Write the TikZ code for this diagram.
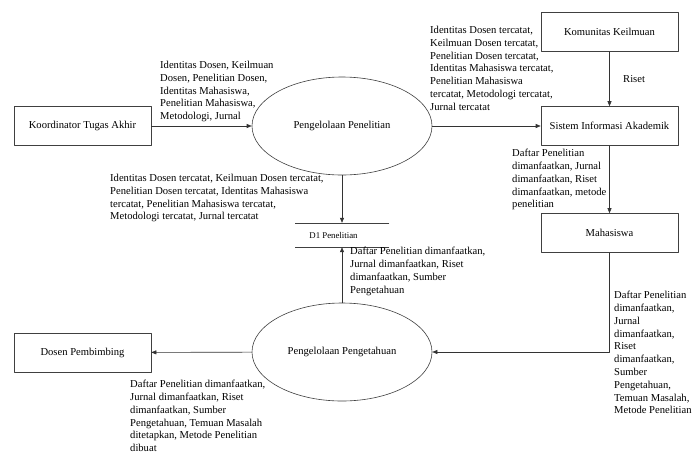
\documentclass[tikz,border=0pt]{standalone}
\usepackage{fontspec}
\setmainfont{Liberation Serif}
\usetikzlibrary{shapes.geometric,arrows.meta}

\begin{document}
\begin{tikzpicture}[x=1pt, y=-1pt, line cap=round, line join=round, >={Triangle[length=5pt,width=4pt]},
		font=\fontsize{10.6}{12.8}\selectfont,
		entity/.style={draw=black!75, line width=0.6pt, minimum width=137pt, minimum height=39pt},
		process/.style={ellipse, draw=black!75, line width=0.6pt, minimum width=180pt, minimum height=98pt},
		store/.style={minimum width=93pt, minimum height=24pt},
		flow/.style={->, draw=black!80, line width=0.6pt},
		lbl/.style={align=left, anchor=north west, inner sep=0pt}]
	\fill[white] (0,0) rectangle (695,453);
	\useasboundingbox (0,0) rectangle (695,453);
	% entitas luar
	\node[entity] (koord) at (82.5,126) {Koordinator Tugas Akhir};
	\node[entity] (dospem) at (82.5,352.5) {Dosen Pembimbing};
	\node[entity] (kom) at (609.5,32) {Komunitas Keilmuan};
	\node[entity] (sia) at (609.5,126) {Sistem Informasi Akademik};
	\node[entity] (mhs) at (609.5,233) {Mahasiswa};
	% proses
	\node[process] (pp) at (342,126) {Pengelolaan Penelitian};
	\node[process] (peng) at (342,352) {Pengelolaan Pengetahuan};
	% data store
	\node[store] (d1) at (342,235) {};
	\node[font=\fontsize{8.8}{10}\selectfont] (d1txt) at (333.5,235) {D1 Penelitian};
	\draw[black!75, line width=0.6pt] (d1.north west) -- (d1.north east) (d1.south west) -- (d1.south east);
	% aliran data
	\draw[flow] (koord) -- (pp);
	\draw[flow] (pp) -- (sia);
	\draw[flow] (kom) -- (sia);
	\draw[flow] (sia) -- (mhs);
	\draw[flow] (mhs.south) |- (peng.east);
	\draw[flow] (peng) -- (dospem);
	\draw[flow] (pp.south) -- (d1.north);
	\draw[flow] (peng.north) -- (d1.south);
	% label
	\node[lbl] (l1) at (160,61) {Identitas Dosen, Keilmuan\\Dosen, Penelitian Dosen,\\Identitas Mahasiswa,\\Penelitian Mahasiswa,\\Metodologi, Jurnal};
	\node[lbl] (l2) at (430,26) {Identitas Dosen tercatat,\\Keilmuan Dosen tercatat,\\Penelitian Dosen tercatat,\\Identitas Mahasiswa tercatat,\\Penelitian Mahasiswa\\tercatat, Metodologi tercatat,\\Jurnal tercatat};
	\node[anchor=west, inner sep=0pt] (l3) at (623,79) {Riset};
	\node[lbl] (l4) at (110,174) {Identitas Dosen tercatat, Keilmuan Dosen tercatat,\\Penelitian Dosen tercatat, Identitas Mahasiswa\\tercatat, Penelitian Mahasiswa tercatat,\\Metodologi tercatat, Jurnal tercatat};
	\node[lbl] (l5) at (512,149) {Daftar Penelitian\\dimanfaatkan, Jurnal\\dimanfaatkan, Riset\\dimanfaatkan, metode\\penelitian};
	\node[lbl] (l6) at (350,247) {Daftar Penelitian dimanfaatkan,\\Jurnal dimanfaatkan, Riset\\dimanfaatkan, Sumber\\Pengetahuan};
	\node[lbl] (l7) at (614,291) {Daftar Penelitian\\dimanfaatkan,\\Jurnal\\dimanfaatkan,\\Riset\\dimanfaatkan,\\Sumber\\Pengetahuan,\\Temuan Masalah,\\Metode Penelitian};
	\node[lbl] (l8) at (130,380) {Daftar Penelitian dimanfaatkan,\\Jurnal dimanfaatkan, Riset\\dimanfaatkan, Sumber\\Pengetahuan, Temuan Masalah\\ditetapkan, Metode Penelitian\\dibuat};
\end{tikzpicture}
\end{document}
